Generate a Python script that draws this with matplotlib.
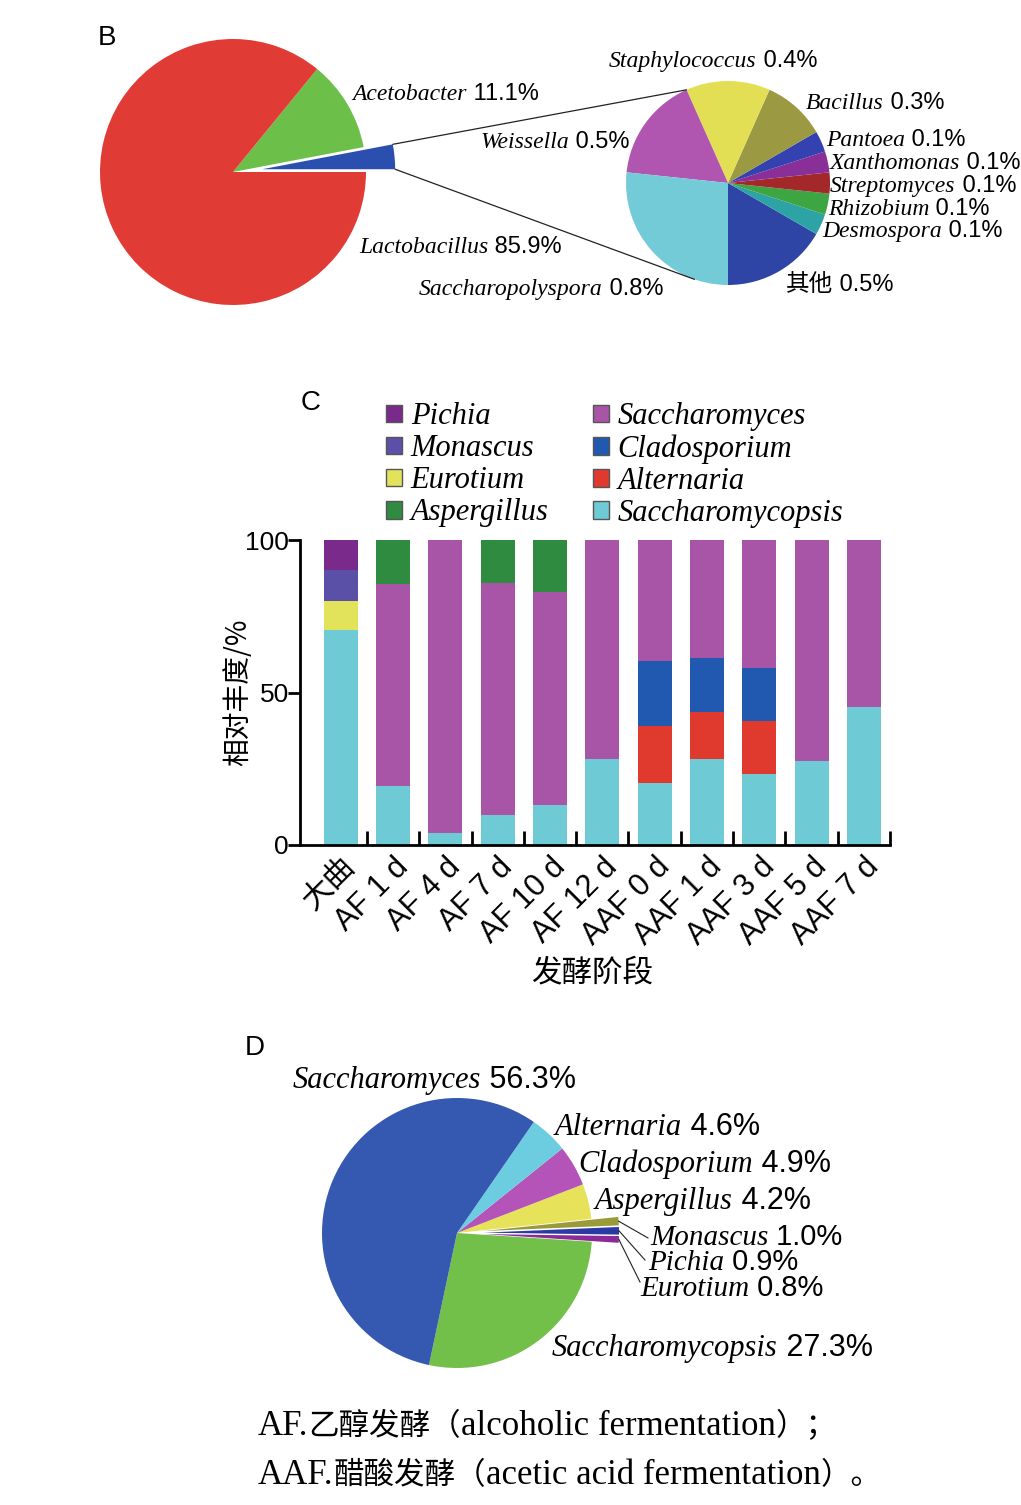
import matplotlib
matplotlib.use('Agg')
import matplotlib.pyplot as plt
import numpy as np
from matplotlib.patches import Patch, ConnectionPatch

W, H = 1021, 1505

# ---- panel B data ----
b_small_names = ['其他', 'Desmospora', 'Rhizobium', 'Streptomyces', 'Xanthomonas',
                 'Pantoea', 'Bacillus', 'Staphylococcus', 'Weissella', 'Saccharopolyspora']
b_small_vals = [0.5, 0.1, 0.1, 0.1, 0.1, 0.1, 0.3, 0.4, 0.5, 0.8]
b_small_colors = ['#2f45a6', '#2ea3a6', '#3ea543', '#a3282a', '#8b2f98',
                  '#3342b0', '#9b9a43', '#e2df55', '#b055b0', '#74cbd8']
b_main_names = ['Acetobacter', 'Lactobacillus']
b_main_vals = [11.1, 85.9]
b_main_colors = ['#2b4fae', '#6cc04a', '#e13b36']

# ---- panel C data ----
c_stages = ['大曲', 'AF 1 d', 'AF 4 d', 'AF 7 d', 'AF 10 d', 'AF 12 d',
            'AAF 0 d', 'AAF 1 d', 'AAF 3 d', 'AAF 5 d', 'AAF 7 d']
saccharomycopsis = [70.5, 19.4, 4.0, 9.7, 13.0, 28.1, 20.2, 28.1, 23.4, 27.4, 45.1]
alternaria = [0, 0, 0, 0, 0, 0, 18.9, 15.6, 17.3, 0, 0]
cladosporium = [0, 0, 0, 0, 0, 0, 21.3, 17.5, 17.2, 0, 0]
saccharomyces = [0, 66.2, 96.0, 76.1, 70.0, 71.9, 39.6, 38.8, 42.1, 72.6, 54.9]
aspergillus = [0, 14.4, 0, 14.2, 17.0, 0, 0, 0, 0, 0, 0]
eurotium = [9.6, 0, 0, 0, 0, 0, 0, 0, 0, 0, 0]
monascus = [10.0, 0, 0, 0, 0, 0, 0, 0, 0, 0, 0]
pichia = [9.9, 0, 0, 0, 0, 0, 0, 0, 0, 0, 0]

c_series = [('Saccharomycopsis', saccharomycopsis, '#6ecad4'),
            ('Alternaria', alternaria, '#e03a2e'),
            ('Cladosporium', cladosporium, '#2158b0'),
            ('Saccharomyces', saccharomyces, '#a855a8'),
            ('Aspergillus', aspergillus, '#2e8b40'),
            ('Eurotium', eurotium, '#e2e35a'),
            ('Monascus', monascus, '#5a50a8'),
            ('Pichia', pichia, '#7a2a8a')]
c_legend_order = ['Pichia', 'Monascus', 'Eurotium', 'Aspergillus',
                  'Saccharomyces', 'Cladosporium', 'Alternaria', 'Saccharomycopsis']

# ---- panel D data ----
d_names = ['Saccharomycopsis', 'Eurotium', 'Pichia', 'Monascus', 'Aspergillus',
           'Cladosporium', 'Alternaria', 'Saccharomyces']
d_vals = [27.3, 0.8, 0.9, 1.0, 4.2, 4.9, 4.6, 56.3]
d_colors = ['#72c04a', '#8b2a98', '#2a3aa2', '#9b9a3a', '#e6e35a', '#b453b8', '#6dcde0', '#3558b0']
d_explode = [0, 0.2, 0.2, 0.2, 0, 0, 0, 0]

SERIF = 'Liberation Serif'
SANS = 'Liberation Sans'
CJK = 'Noto Sans CJK SC'

fig = plt.figure(figsize=(W / 100, H / 100), dpi=100)


def px_axes(cx, cy, r, pad=1.4):
    half = r * pad
    ax = fig.add_axes([(cx - half) / W, 1 - (cy + half) / H, 2 * half / W, 2 * half / H])
    ax.patch.set_visible(False)
    return ax, pad


# B: main pie
ax1, p1 = px_axes(233, 172, 133)
w1, _ = ax1.pie([sum(b_small_vals)] + b_main_vals, colors=b_main_colors, startangle=0,
                explode=[0.22, 0, 0], wedgeprops=dict(linewidth=0))
ax1.set_xlim(-p1, p1)
ax1.set_ylim(-p1, p1)

# B: small pie
ax2, p2 = px_axes(728, 183, 102)
w2, _ = ax2.pie(b_small_vals, colors=b_small_colors, startangle=270,
                wedgeprops=dict(linewidth=0))
ax2.set_xlim(-p2, p2)
ax2.set_ylim(-p2, p2)


def edge_pt(w, ang):
    a = np.deg2rad(ang)
    return (w.center[0] + w.r * np.cos(a), w.center[1] + w.r * np.sin(a))


wo = w1[0]
stap = w2[b_small_names.index('Staphylococcus')]
sacp = w2[b_small_names.index('Saccharopolyspora')]
for a_big, pt_small in [(wo.theta2, edge_pt(stap, stap.theta2)),
                        (wo.theta1, edge_pt(sacp, sacp.theta1 + 0.8 * (sacp.theta2 - sacp.theta1)))]:
    con = ConnectionPatch(xyA=edge_pt(wo, a_big), coordsA=ax1.transData,
                          xyB=pt_small, coordsB=ax2.transData, color='#222222', lw=0.9)
    fig.add_artist(con)

# C: stacked bars
axc = fig.add_axes([300 / W, 1 - 845 / H, 590 / W, 305 / H])
x = np.arange(len(c_stages))
bottom = np.zeros(len(c_stages))
for name, vals, col in c_series:
    axc.bar(x, vals, 0.65, bottom=bottom, color=col, edgecolor='none')
    bottom += np.array(vals)
axc.set_xlim(-0.78, 10.5)
axc.set_ylim(0, 100)
for s in ['top', 'right']:
    axc.spines[s].set_visible(False)
for s in ['left', 'bottom']:
    axc.spines[s].set_linewidth(2)
axc.set_yticks([0, 50, 100])
axc.tick_params(axis='y', direction='out', length=9, width=2, labelsize=19, pad=-1)
for t in axc.get_yticklabels():
    t.set_family(SANS)
axc.set_xticks(list(x[:-1] + 0.5) + [10.5])
axc.set_xticks(x, minor=True)
axc.set_xticklabels(c_stages, minor=True)
axc.tick_params(axis='x', which='major', direction='in', length=10, width=2, labelbottom=False)
axc.tick_params(axis='x', which='minor', length=0, pad=5)
for t in axc.get_xticklabels(minor=True):
    t.set(rotation=45, ha='right', va='top', rotation_mode='anchor',
          family=[SANS, CJK], fontsize=22)

cols = {n: c for n, _, c in c_series}
handles = [Patch(facecolor=cols[n], edgecolor='#555555', linewidth=1) for n in c_legend_order]
fig.legend(handles, c_legend_order, ncol=2, loc='upper left',
           bbox_to_anchor=(371 / W, 1 - 387 / H), frameon=False, borderpad=0,
           handlelength=0.52, handleheight=0.52, handletextpad=0.28, columnspacing=1.45,
           labelspacing=0.1, prop=dict(family=SERIF, style='italic', size=22))

# D pie
ax3, p3 = px_axes(457, 1233, 135)
w3, _ = ax3.pie(d_vals, colors=d_colors, startangle=-102, explode=d_explode,
                wedgeprops=dict(linewidth=0))
ax3.set_xlim(-p3, p3)
ax3.set_ylim(-p3, p3)

# overlay for texts in pixel coords
bg = fig.add_axes([0, 0, 1, 1], facecolor='none')
bg.set_xlim(0, W)
bg.set_ylim(H, 0)
bg.axis('off')


def label(xp, yp, name, pct, size, cjk=False):
    if cjk:
        t = bg.text(xp, yp, name, fontsize=size, family=CJK, va='baseline', ha='left')
    else:
        t = bg.text(xp, yp, name, fontsize=size, family=SERIF, style='italic', va='baseline', ha='left')
    bg.annotate(' ' + pct, xy=(1, yp), xycoords=(t, 'data'), fontsize=size, family=SANS,
                va='baseline', ha='left')


# B labels (baseline y)
for xp, yp, n, p in [(352, 100, 'Acetobacter', '11.1%'), (480, 148, 'Weissella', '0.5%'),
                     (359, 253, 'Lactobacillus', '85.9%'), (419, 295, 'Saccharopolyspora', '0.8%'),
                     (609, 67, 'Staphylococcus', '0.4%'), (806, 109, 'Bacillus', '0.3%'),
                     (826, 146, 'Pantoea', '0.1%'), (830, 169, 'Xanthomonas', '0.1%'),
                     (830, 192, 'Streptomyces', '0.1%'), (828, 215, 'Rhizobium', '0.1%'),
                     (822, 237, 'Desmospora', '0.1%')]:
    label(xp, yp, n, p, 17)
label(786, 291, '其他', '0.5%', 17, cjk=True)

# D labels
d_pct = dict(zip(d_names, d_vals))
for xp, yp, n, sz in [(293, 1088, 'Saccharomyces', 22), (555, 1135, 'Alternaria', 22),
                      (578, 1172, 'Cladosporium', 22), (595, 1209, 'Aspergillus', 22),
                      (650, 1245, 'Monascus', 21), (648, 1270, 'Pichia', 21),
                      (640, 1296, 'Eurotium', 21), (552, 1356, 'Saccharomycopsis', 22)]:
    label(xp, yp, n, '%.1f%%' % d_pct[n], sz)

# D leader lines from exploded wedges
for n, tgt in [('Monascus', (648, 1238)), ('Pichia', (645, 1260)), ('Eurotium', (640, 1282))]:
    w = w3[d_names.index(n)]
    mid = 0.5 * (w.theta1 + w.theta2)
    pt = ax3.transData.transform(edge_pt(w, mid))
    pt = bg.transData.inverted().transform(pt)
    bg.plot([pt[0], tgt[0]], [pt[1], tgt[1]], color='#222222', lw=0.8)

# panel letters, axis titles
bg.text(107, 38, 'B', fontsize=20, family=SANS, ha='center', va='center')
bg.text(311, 403, 'C', fontsize=20, family=SANS, ha='center', va='center')
bg.text(255, 1048, 'D', fontsize=20, family=SANS, ha='center', va='center')
bg.text(238, 692, '相对丰度/%', fontsize=20, family=CJK, rotation=90, ha='center', va='center')
bg.text(592, 973, '发酵阶段', fontsize=22, family=CJK, ha='center', va='center')


# caption: Latin parts in serif, CJK parts in CJK font, chained left to right
def caption(xp, yp, parts):
    prev = None
    for s, is_cjk in parts:
        kw = dict(fontsize=22, family=CJK) if is_cjk else dict(fontsize=25, family=SERIF)
        if prev is None:
            prev = bg.text(xp, yp, s, va='baseline', ha='left', **kw)
        else:
            prev = bg.annotate(s, xy=(1, yp), xycoords=(prev, 'data'),
                               va='baseline', ha='left', **kw)


caption(258, 1435, [('AF.', False), ('乙醇发酵（', True),
                    ('alcoholic fermentation', False), ('）；', True)])
caption(258, 1484, [('AAF.', False), ('醋酸发酵（', True),
                    ('acetic acid fermentation', False), ('）。', True)])

fig.savefig('out.png', dpi=100)
